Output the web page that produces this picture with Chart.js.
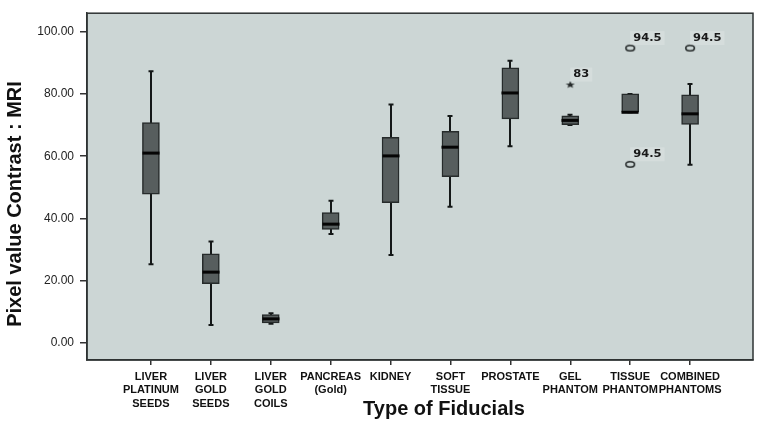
<!DOCTYPE html>
<html>
<head>
<meta charset="utf-8">
<script src="https://cdn.jsdelivr.net/npm/chart.js@4.4.0/dist/chart.umd.min.js"></script>
<style>
  html, body { margin: 0; padding: 0; background: #fff; }
</style>
</head>
<body>
<canvas id="boxChart" width="759" height="425"></canvas>
<script>
// categories along the x axis (multi-line labels)
const categories = [
  ['LIVER', 'PLATINUM', 'SEEDS'],
  ['LIVER', 'GOLD', 'SEEDS'],
  ['LIVER', 'GOLD', 'COILS'],
  ['PANCREAS', '(Gold)'],
  ['KIDNEY'],
  ['SOFT', 'TISSUE'],
  ['PROSTATE'],
  ['GEL', 'PHANTOM'],
  ['TISSUE', 'PHANTOM'],
  ['COMBINED', 'PHANTOMS']
];

// box plot statistics, one value per category
const whiskerLow  = [25.3,  5.8, 6.2, 35.0, 28.3, 43.8, 63.2, 70.0, 74.1, 57.3];
const quartile1   = [47.8, 19.1, 6.5, 36.5, 45.1, 53.4, 72.0, 70.1, 74.1, 70.2];
const medians     = [61.0, 22.8, 7.8, 38.2, 60.1, 62.9, 80.3, 71.5, 74.1, 73.6];
const quartile3   = [70.8, 28.7, 9.2, 41.9, 66.1, 68.0, 88.4, 73.0, 80.0, 79.7];
const whiskerHigh = [87.3, 32.6, 9.6, 45.7, 76.6, 72.9, 90.6, 73.3, 80.0, 83.2];

// outliers
const outlierCat   = [7, 8, 8, 9];
const outlierValue = [83.0, 94.7, 57.4, 94.7];
const outlierText  = ['83', '94.5', '94.5', '94.5'];
const outlierStar  = [true, false, false, false];

const yTicks = [0, 20, 40, 60, 80, 100];

const font = "'Liberation Sans', Arial, Helvetica, sans-serif";

// small marker images (the original is a bit stretched sideways)
function makeRing() {
  const c = document.createElement('canvas');
  c.width = 12; c.height = 9;
  const g = c.getContext('2d');
  g.strokeStyle = '#262b2b';
  g.lineWidth = 1.6;
  g.beginPath();
  g.ellipse(6, 4.5, 4.3, 2.7, 0, 0, Math.PI * 2);
  g.stroke();
  return c;
}
function makeStar() {
  const c = document.createElement('canvas');
  c.width = 10; c.height = 8;
  const g = c.getContext('2d');
  g.fillStyle = '#262b2b';
  g.beginPath();
  for (let k = 0; k < 10; k++) {
    const r = k % 2 === 0 ? 1 : 0.42;
    const ang = -Math.PI / 2 + k * Math.PI / 5;
    g.lineTo(5 + Math.cos(ang) * r * 4.8, 4.3 + Math.sin(ang) * r * 3.8);
  }
  g.closePath();
  g.fill();
  return c;
}

const boxParts = {
  id: 'boxParts',
  beforeDraw(chart) {
    const { ctx, chartArea: a } = chart;
    ctx.save();
    ctx.fillStyle = '#ccd6d5';
    ctx.fillRect(a.left, a.top, a.right - a.left, a.bottom - a.top);
    ctx.restore();
  },
  beforeDatasetsDraw(chart) {
    const { ctx, scales: { x, y } } = chart;
    ctx.save();
    ctx.strokeStyle = '#141818';
    ctx.lineWidth = 2;
    categories.forEach((c, i) => {
      const px = Math.round(x.getPixelForValue(i));
      const lo = y.getPixelForValue(whiskerLow[i]);
      const hi = y.getPixelForValue(whiskerHigh[i]);
      ctx.beginPath();
      ctx.moveTo(px, lo); ctx.lineTo(px, hi);
      ctx.moveTo(px - 2.5, lo); ctx.lineTo(px + 2.5, lo);
      ctx.moveTo(px - 2.5, hi); ctx.lineTo(px + 2.5, hi);
      ctx.stroke();
    });
    ctx.restore();
  },
  afterDatasetsDraw(chart) {
    const { ctx, chartArea: a, scales: { x, y } } = chart;
    ctx.save();
    // median lines
    ctx.strokeStyle = '#050505';
    ctx.lineWidth = 3;
    categories.forEach((c, i) => {
      const px = Math.round(x.getPixelForValue(i));
      const m = y.getPixelForValue(medians[i]);
      ctx.beginPath();
      ctx.moveTo(px - 8.5, m); ctx.lineTo(px + 8.5, m);
      ctx.stroke();
    });
    // outlier labels
    ctx.font = "bold 10px 'DejaVu Sans', sans-serif";
    ctx.textBaseline = 'middle';
    ctx.textAlign = 'left';
    outlierCat.forEach((c, i) => {
      const px = x.getPixelForValue(c) + 3;
      const py = y.getPixelForValue(outlierValue[i]) - 10;
      const w = ctx.measureText(outlierText[i]).width * 1.15;
      ctx.fillStyle = 'rgba(255,255,255,0.18)';
      ctx.fillRect(px - 3, py - 7, w + 6, 14);
      ctx.save();
      ctx.translate(px, py);
      ctx.scale(1.15, 1);
      ctx.fillStyle = '#1a1a1a';
      ctx.fillText(outlierText[i], 0, 0);
      ctx.restore();
    });
    // plot frame
    ctx.strokeStyle = '#2e3333';
    ctx.lineWidth = 1.5;
    ctx.strokeRect(a.left, a.top, a.right - a.left, a.bottom - a.top);
    ctx.restore();
  },
  afterDraw(chart) {
    const { ctx } = chart;
    ctx.save();
    ctx.fillStyle = '#111';
    ctx.font = 'bold 20px ' + font;
    ctx.textAlign = 'center';
    ctx.textBaseline = 'middle';
    ctx.fillText('Type of Fiducials', 444, 409);
    ctx.translate(15, 204);
    ctx.rotate(-Math.PI / 2);
    ctx.fillText('Pixel value Contrast : MRI', 0, 0);
    ctx.restore();
  }
};

new Chart(document.getElementById('boxChart'), {
  type: 'bar',
  data: {
    datasets: [
      {
        type: 'bar',
        data: categories.map((c, i) => ({ x: i, y: [quartile1[i], quartile3[i]] })),
        backgroundColor: '#575e5e',
        borderColor: '#262b2b',
        borderWidth: 1.5,
        borderSkipped: false,
        barThickness: 17
      },
      {
        type: 'scatter',
        data: outlierCat.map((c, i) => ({ x: c, y: outlierValue[i] })).filter((p, i) => !outlierStar[i]),
        pointStyle: makeRing(),
        pointRadius: 5
      },
      {
        type: 'scatter',
        data: outlierCat.map((c, i) => ({ x: c, y: outlierValue[i] })).filter((p, i) => outlierStar[i]),
        pointStyle: makeStar(),
        pointRadius: 5
      }
    ]
  },
  options: {
    responsive: false,
    animation: false,
    devicePixelRatio: 1,
    layout: { padding: { top: 11, right: 5, left: 0, bottom: 0 } },
    plugins: { legend: { display: false }, tooltip: { enabled: false } },
    scales: {
      x: {
        type: 'linear',
        offset: false,
        min: -1.067,
        max: 10.05,
        afterBuildTicks: (s) => { s.ticks = categories.map((c, i) => ({ value: i })); },
        afterFit: (s) => { s.height = 65; },
        grid: { offset: false, drawOnChartArea: false, tickLength: 5, color: '#333', lineWidth: 1.5 },
        border: { color: '#2e3333', width: 1.5 },
        ticks: {
          autoSkip: false,
          maxRotation: 0,
          padding: 5,
          color: '#111',
          font: { family: font, size: 11, weight: 'bold', lineHeight: 1.22 },
          callback: (v) => categories[v]
        }
      },
      y: {
        type: 'linear',
        min: -5.4,
        max: 105.9,
        afterBuildTicks: (s) => { s.ticks = yTicks.map(v => ({ value: v })); },
        afterFit: (s) => { s.width = 87; },
        grid: { drawOnChartArea: false, tickLength: 7, color: '#333', lineWidth: 1.5 },
        border: { color: '#2e3333', width: 1.5 },
        ticks: {
          padding: 6,
          color: '#222',
          font: { family: font, size: 12 },
          callback: (v) => Number(v).toFixed(2)
        }
      }
    }
  },
  plugins: [boxParts]
});
</script>
</body>
</html>
